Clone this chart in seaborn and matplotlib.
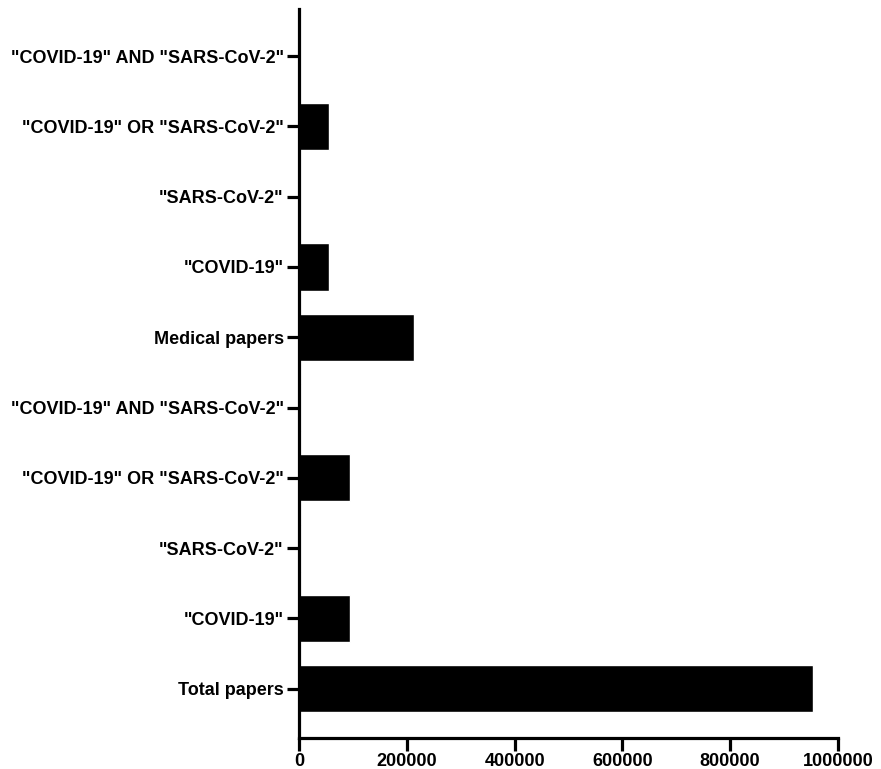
import matplotlib
matplotlib.use("Agg")
import matplotlib.pyplot as plt
import seaborn as sns
import pandas as pd

# categories, top to bottom
labels = [
    '"COVID-19" AND "SARS-CoV-2"',
    '"COVID-19" OR "SARS-CoV-2"',
    '"SARS-CoV-2"',
    '"COVID-19"',
    'Medical papers',
    '"COVID-19" AND "SARS-CoV-2"',
    '"COVID-19" OR "SARS-CoV-2"',
    '"SARS-CoV-2"',
    '"COVID-19"',
    'Total papers',
]
counts = [500, 55400, 1000, 55500, 212800, 3500, 94400, 3500, 95100, 953000]
xticks = [0, 200000, 400000, 600000, 800000, 1000000]

df = pd.DataFrame({"pos": list(range(len(labels))), "count": counts})

sns.set_style("ticks")
plt.rcParams['font.family'] = ['Liberation Sans', 'DejaVu Sans']
plt.rcParams['text.color'] = 'black'
plt.rcParams['xtick.color'] = 'black'
plt.rcParams['ytick.color'] = 'black'

fig = plt.figure(figsize=(8.81, 7.69), dpi=100)
ax = fig.add_axes([0.3394, 0.0403, 0.6117, 0.948])

sns.barplot(data=df, x="count", y="pos", orient="h", color="black",
            width=0.67, saturation=1, ax=ax)

ax.set_yticks(range(len(labels)))
ax.set_yticklabels(labels, fontsize=13, fontweight="bold", color="black")
ax.set_xticks(xticks)
ax.set_xticklabels([str(t) for t in xticks], fontsize=13, fontweight="bold", color="black")
ax.set_xlim(0, 1000000)
ax.set_ylim(9.7, -0.67)
ax.set_xlabel("")
ax.set_ylabel("")

sns.despine(ax=ax)
for s in ["left", "bottom"]:
    ax.spines[s].set_linewidth(2.3)
    ax.spines[s].set_color("black")
ax.tick_params(axis="both", width=2.3, length=9, color="black", pad=2)

fig.savefig("out.png", dpi=100)
